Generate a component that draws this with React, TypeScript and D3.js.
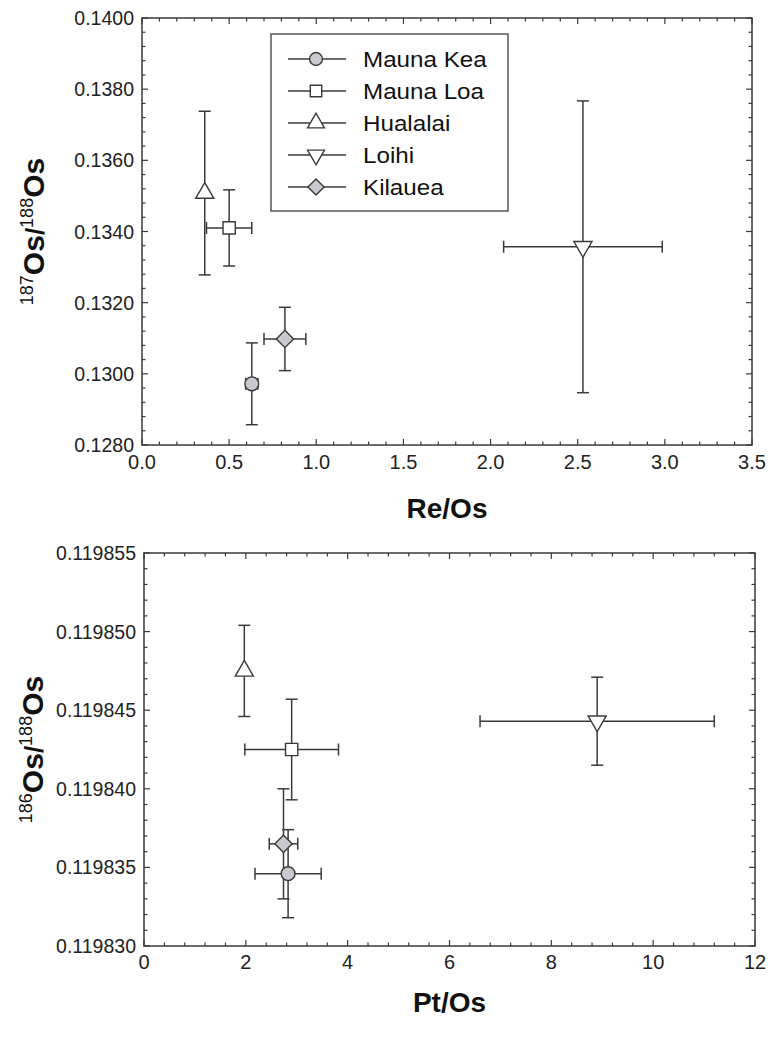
import React from "react";
import * as d3 from "d3";

// ---------- data ----------
const volcanoes = ["Mauna Kea", "Mauna Loa", "Hualalai", "Loihi", "Kilauea"];
const markerShapes = ["circle", "square", "triangleUp", "triangleDown", "diamond"];
const markerFilled = [true, false, false, false, true];

// top panel: Re/Os vs 187Os/188Os
const reOs = [0.63, 0.5, 0.36, 2.53, 0.82];
const reOsErr = [0.035, 0.13, 0, 0.455, 0.12];
const os187 = [0.12972, 0.1341, 0.13508, 0.13357, 0.13098];
const os187Err = [0.00115, 0.00107, 0.0023, 0.0041, 0.00089];

// bottom panel: Pt/Os vs 186Os/188Os
const ptOs = [2.83, 2.9, 1.97, 8.9, 2.74];
const ptOsErr = [0.65, 0.92, 0, 2.3, 0.28];
const os186 = [0.1198346, 0.1198425, 0.1198475, 0.1198443, 0.1198365];
const os186Err = [0.0000028, 0.0000032, 0.0000029, 0.0000028, 0.0000035];

// axis tick definitions
const topXTicks = [0, 0.5, 1, 1.5, 2, 2.5, 3, 3.5];
const topYTicks = [0.128, 0.13, 0.132, 0.134, 0.136, 0.138, 0.14];
const botXTicks = [0, 2, 4, 6, 8, 10, 12];
const botYTicks = [0.11983, 0.119835, 0.11984, 0.119845, 0.11985, 0.119855];

const INK = "#3a3a3a";
const GRAYFILL = "#c9c9d2";
const FONT = "'Liberation Sans', Arial, Helvetica, sans-serif";

function markerPath(shape: string, size: number) {
  if (shape === "circle") return d3.symbol(d3.symbolCircle, size)();
  if (shape === "square") return d3.symbol(d3.symbolSquare, size)();
  if (shape === "diamond") return d3.symbol(d3.symbolSquare, size)();
  return d3.symbol(d3.symbolTriangle, size * 0.95)();
}
function markerRot(shape: string) {
  if (shape === "diamond") return 45;
  if (shape === "triangleDown") return 180;
  return 0;
}

function Marker({ shape, filled, x, y, size }: any) {
  return (
    <path
      d={markerPath(shape, size) as string}
      transform={`translate(${x},${y}) rotate(${markerRot(shape)})`}
      fill={filled ? GRAYFILL : "#ffffff"}
      stroke={INK}
      strokeWidth={1.4}
    />
  );
}

function minorRange(a: number, b: number, step: number) {
  const n = Math.round((b - a) / step);
  return d3.range(n + 1).map((i) => a + i * step);
}

function Panel({
  xDomain, yDomain, x0, x1, y0, y1, xTicks, yTicks, xMinor, yMinor,
  xFmt, yFmt, xs, xe, ys, ye, xLabel, yLabelTop, xLabelY, yLabelX, xTickY,
}: any) {
  const x = d3.scaleLinear().domain(xDomain).range([x0, x1]);
  const y = d3.scaleLinear().domain(yDomain).range([y1, y0]);
  const xm = minorRange(xDomain[0], xDomain[1], xMinor);
  const ym = minorRange(yDomain[0], yDomain[1], yMinor);
  const isMajor = (v: number, ticks: number[], tol: number) => ticks.some((t) => Math.abs(t - v) < tol);
  const capV = 6;
  const capH = 6;
  return (
    <g>
      <rect x={x0} y={y0} width={x1 - x0} height={y1 - y0} fill="#fff" stroke={INK} strokeWidth={1.5} />
      {xm.map((v, i) => {
        const L = isMajor(v, xTicks, xMinor / 10) ? 6 : 3.5;
        const px = x(v);
        return (
          <g key={"xt" + i}>
            <line x1={px} x2={px} y1={y1} y2={y1 - L} stroke={INK} strokeWidth={1.2} />
            <line x1={px} x2={px} y1={y0} y2={y0 + L} stroke={INK} strokeWidth={1.2} />
          </g>
        );
      })}
      {ym.map((v, i) => {
        const L = isMajor(v, yTicks, yMinor / 10) ? 6 : 3.5;
        const py = y(v);
        return (
          <g key={"yt" + i}>
            <line x1={x0} x2={x0 + L} y1={py} y2={py} stroke={INK} strokeWidth={1.2} />
            <line x1={x1} x2={x1 - L} y1={py} y2={py} stroke={INK} strokeWidth={1.2} />
          </g>
        );
      })}
      {xTicks.map((v: number, i: number) => (
        <text key={"xl" + i} x={x(v)} y={xTickY} textAnchor="middle" fontFamily={FONT} fontSize={20} fill="#222">
          {xFmt(v)}
        </text>
      ))}
      {yTicks.map((v: number, i: number) => (
        <text key={"yl" + i} x={x0 - 8} y={y(v)} dy="0.36em" textAnchor="end" fontFamily={FONT} fontSize={19.5} fill="#222">
          {yFmt(v)}
        </text>
      ))}
      {xs.map((xv: number, i: number) => {
        const px = x(xv);
        const py = y(ys[i]);
        const els = [];
        if (ye[i] > 0) {
          const ya = y(ys[i] + ye[i]);
          const yb = y(ys[i] - ye[i]);
          els.push(<line key="v" x1={px} x2={px} y1={ya} y2={yb} stroke={INK} strokeWidth={1.5} />);
          els.push(<line key="vc1" x1={px - capV} x2={px + capV} y1={ya} y2={ya} stroke={INK} strokeWidth={1.5} />);
          els.push(<line key="vc2" x1={px - capV} x2={px + capV} y1={yb} y2={yb} stroke={INK} strokeWidth={1.5} />);
        }
        if (xe[i] > 0) {
          const xa = x(xv - xe[i]);
          const xb = x(xv + xe[i]);
          els.push(<line key="h" x1={xa} x2={xb} y1={py} y2={py} stroke={INK} strokeWidth={1.5} />);
          els.push(<line key="hc1" x1={xa} x2={xa} y1={py - capH} y2={py + capH} stroke={INK} strokeWidth={1.5} />);
          els.push(<line key="hc2" x1={xb} x2={xb} y1={py - capH} y2={py + capH} stroke={INK} strokeWidth={1.5} />);
        }
        return <g key={"eb" + i}>{els}</g>;
      })}
      {xs.map((xv: number, i: number) => (
        <Marker key={"m" + i} shape={markerShapes[i]} filled={markerFilled[i]} x={x(xv)} y={y(ys[i])} size={150} />
      ))}
      <text x={(x0 + x1) / 2} y={xLabelY} textAnchor="middle" fontFamily={FONT} fontSize={28} fontWeight="bold" fill="#111">
        {xLabel}
      </text>
      <text
        transform={`translate(${yLabelX},${(y0 + y1) / 2}) rotate(-90)`}
        textAnchor="middle"
        fontFamily={FONT}
        fill="#111"
      >
        <tspan fontSize={18} dy="-11">{yLabelTop}</tspan>
        <tspan fontSize={30} fontWeight="bold" dy="11">Os</tspan>
        <tspan fontSize={26} fontWeight="bold">/</tspan>
        <tspan fontSize={18} dy="-11">188</tspan>
        <tspan fontSize={30} fontWeight="bold" dy="11">Os</tspan>
      </text>
    </g>
  );
}

function Legend({ x0, y0, w, h }: any) {
  const rowY0 = y0 + 25;
  const dy = 32;
  return (
    <g>
      <rect x={x0} y={y0} width={w} height={h} fill="#fff" stroke="#555" strokeWidth={1.5} />
      {volcanoes.map((name, i) => {
        const ry = rowY0 + i * dy;
        return (
          <g key={name}>
            <line x1={x0 + 17} x2={x0 + 75} y1={ry} y2={ry} stroke={INK} strokeWidth={1.5} />
            <Marker shape={markerShapes[i]} filled={markerFilled[i]} x={x0 + 45} y={ry} size={130} />
            <text
              transform={`translate(${x0 + 92},${ry}) scale(1.1,1)`}
              dy="0.36em"
              fontFamily={FONT}
              fontSize={22}
              fill="#111"
            >
              {name}
            </text>
          </g>
        );
      })}
    </g>
  );
}

export default function App() {
  return (
    <svg
      width={770}
      height={1055}
      style={{ position: "absolute", left: 0, top: 0, display: "block", background: "#fff" }}
    >
      <rect x={0} y={0} width={770} height={1055} fill="#fff" />
      <Panel
        xDomain={[0, 3.5]}
        yDomain={[0.128, 0.14]}
        x0={142}
        x1={752}
        y0={18}
        y1={445}
        xTicks={topXTicks}
        yTicks={topYTicks}
        xMinor={0.1}
        yMinor={0.0004}
        xFmt={d3.format(".1f")}
        yFmt={d3.format(".4f")}
        xs={reOs}
        xe={reOsErr}
        ys={os187}
        ye={os187Err}
        xLabel="Re/Os"
        yLabelTop="187"
        xLabelY={518}
        yLabelX={44}
        xTickY={469}
      />
      <Legend x0={271} y0={34} w={237} h={177} />
      <Panel
        xDomain={[0, 12]}
        yDomain={[0.11983, 0.119855]}
        x0={144}
        x1={755}
        y0={553}
        y1={946}
        xTicks={botXTicks}
        yTicks={botYTicks}
        xMinor={0.4}
        yMinor={0.000001}
        xFmt={d3.format("d")}
        yFmt={d3.format(".6f")}
        xs={ptOs}
        xe={ptOsErr}
        ys={os186}
        ye={os186Err}
        xLabel="Pt/Os"
        yLabelTop="186"
        xLabelY={1012}
        yLabelX={43}
        xTickY={969}
      />
    </svg>
  );
}
